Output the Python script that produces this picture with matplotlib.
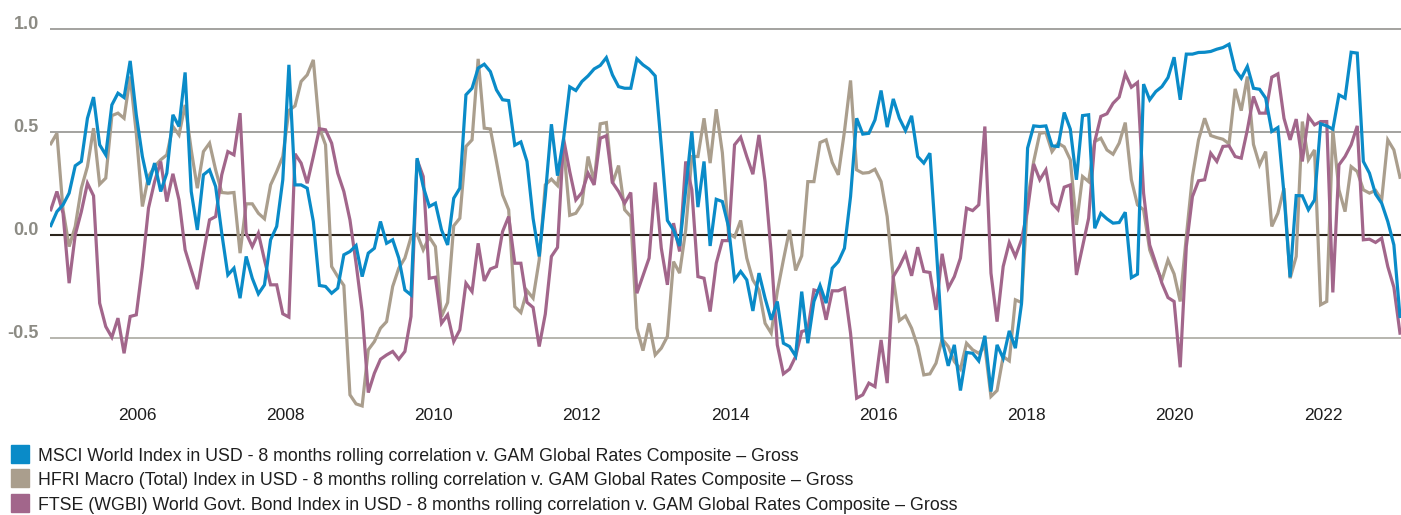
import matplotlib
matplotlib.use("Agg")
import matplotlib.pyplot as plt
import pandas as pd
from matplotlib.lines import Line2D

plt.rcParams['font.family'] = ['Liberation Sans', 'DejaVu Sans']

# ---------------- data (monthly, Nov 2004 - Jan 2023) ----------------
start_date = '2004-11-01'
end_date = '2023-01-15'

msci = [
    0.045, 0.113, 0.146, 0.203, 0.336, 0.357, 0.567, 0.670, 0.438, 0.389,
    0.632, 0.689, 0.668, 0.846, 0.584, 0.381, 0.243, 0.349, 0.211, 0.300,
    0.584, 0.527, 0.790, 0.211, 0.024, 0.292, 0.316, 0.235, 0.008, -0.195,
    -0.162, -0.308, -0.105, -0.211, -0.287, -0.243, -0.024, 0.041, 0.268, 0.827,
    0.243, 0.243, 0.227, 0.065, -0.246, -0.251, -0.284, -0.259, -0.097, -0.081,
    -0.052, -0.203, -0.089, -0.065, 0.065, -0.041, -0.024, -0.113, -0.268, -0.292,
    0.373, 0.235, 0.138, 0.154, 0.024, -0.049, 0.178, 0.227, 0.681, 0.713,
    0.811, 0.830, 0.794, 0.705, 0.657, 0.653, 0.436, 0.452, 0.357, 0.080,
    -0.105, 0.190, 0.538, 0.288, 0.470, 0.720, 0.702, 0.746, 0.773, 0.807,
    0.824, 0.862, 0.778, 0.721, 0.713, 0.713, 0.856, 0.827, 0.806, 0.773,
    0.430, 0.070, 0.024, -0.054, 0.219, 0.503, 0.135, 0.357, -0.054, 0.173,
    0.162, 0.041, -0.219, -0.178, -0.219, -0.370, -0.186, -0.308, -0.413, -0.324,
    -0.527, -0.543, -0.589, -0.276, -0.527, -0.324, -0.246, -0.332, -0.162, -0.130,
    -0.065, 0.186, 0.567, 0.490, 0.494, 0.559, 0.702, 0.524, 0.661, 0.567,
    0.507, 0.579, 0.381, 0.349, 0.397, -0.041, -0.511, -0.637, -0.535, -0.757,
    -0.572, -0.576, -0.613, -0.491, -0.762, -0.535, -0.600, -0.467, -0.551, -0.336,
    0.422, 0.530, 0.527, 0.530, 0.433, 0.430, 0.595, 0.514, 0.268, 0.580,
    0.584, 0.032, 0.105, 0.078, 0.057, 0.060, 0.110, -0.208, -0.191, 0.733,
    0.657, 0.697, 0.721, 0.765, 0.864, 0.657, 0.879, 0.879, 0.887, 0.888,
    0.892, 0.903, 0.911, 0.927, 0.803, 0.762, 0.819, 0.713, 0.708, 0.665,
    0.503, 0.522, 0.200, -0.206, 0.191, 0.190, 0.122, 0.170, 0.540, 0.530,
    0.514, 0.681, 0.665, 0.888, 0.884, 0.357, 0.300, 0.198, 0.154, 0.065,
    -0.049, -0.397,
]

hfri = [
    0.443, 0.494, 0.122, -0.057, 0.041, 0.227, 0.332, 0.519, 0.246, 0.276,
    0.580, 0.592, 0.567, 0.770, 0.494, 0.138, 0.284, 0.332, 0.365, 0.389,
    0.527, 0.486, 0.632, 0.413, 0.227, 0.405, 0.446, 0.316, 0.206, 0.203,
    0.206, -0.089, 0.151, 0.151, 0.105, 0.078, 0.243, 0.308, 0.381, 0.605,
    0.627, 0.746, 0.778, 0.851, 0.519, 0.438, -0.154, -0.203, -0.246, -0.778,
    -0.822, -0.832, -0.559, -0.519, -0.454, -0.422, -0.251, -0.162, -0.113, -0.011,
    0.003, -0.073, -0.011, -0.057, -0.397, -0.329, 0.044, 0.081, 0.430, 0.462,
    0.856, 0.519, 0.515, 0.357, 0.195, 0.122, -0.349, -0.378, -0.271, -0.308,
    -0.122, 0.243, 0.271, 0.240, 0.430, 0.095, 0.105, 0.151, 0.381, 0.259,
    0.540, 0.546, 0.251, 0.337, 0.122, 0.089, -0.454, -0.563, -0.430, -0.584,
    -0.551, -0.494, -0.130, -0.186, 0.024, 0.381, 0.381, 0.567, 0.349, 0.611,
    0.400, 0.008, -0.011, 0.070, -0.113, -0.219, -0.268, -0.430, -0.478, -0.276,
    -0.122, 0.024, -0.173, -0.102, 0.259, 0.259, 0.449, 0.462, 0.352, 0.292,
    0.503, 0.751, 0.316, 0.300, 0.303, 0.319, 0.259, 0.089, -0.210, -0.417,
    -0.394, -0.454, -0.543, -0.681, -0.676, -0.624, -0.507, -0.543, -0.616, -0.653,
    -0.527, -0.559, -0.576, -0.543, -0.786, -0.757, -0.592, -0.613, -0.316, -0.329,
    0.170, 0.357, 0.494, 0.498, 0.405, 0.446, 0.428, 0.365, 0.049, 0.284,
    0.259, 0.454, 0.470, 0.413, 0.392, 0.446, 0.546, 0.268, 0.146, 0.122,
    -0.073, -0.154, -0.219, -0.122, -0.190, -0.324, -0.008, 0.284, 0.462, 0.567,
    0.483, 0.473, 0.465, 0.443, 0.710, 0.604, 0.770, 0.440, 0.340, 0.405,
    0.041, 0.105, 0.227, -0.211, -0.105, 0.551, 0.365, 0.413, -0.340, -0.324,
    0.511, 0.219, 0.113, 0.332, 0.308, 0.219, 0.203, 0.216, 0.170, 0.462,
    0.413, 0.280,
]

ftse = [
    0.122, 0.211, 0.105, -0.235, 0.000, 0.113, 0.251, 0.190, -0.332, -0.446,
    -0.498, -0.405, -0.576, -0.397, -0.389, -0.154, 0.130, 0.259, 0.357, 0.162,
    0.297, 0.170, -0.073, -0.170, -0.264, -0.089, 0.073, 0.089, 0.292, 0.405,
    0.389, 0.592, 0.008, -0.057, 0.008, -0.122, -0.243, -0.243, -0.384, -0.400,
    0.394, 0.349, 0.251, 0.381, 0.516, 0.511, 0.446, 0.300, 0.211, 0.073,
    -0.138, -0.373, -0.767, -0.673, -0.605, -0.584, -0.567, -0.605, -0.567, -0.397,
    0.365, 0.284, -0.211, -0.206, -0.430, -0.389, -0.519, -0.462, -0.235, -0.276,
    -0.041, -0.224, -0.166, -0.154, 0.016, 0.089, -0.138, -0.138, -0.328, -0.353,
    -0.543, -0.385, -0.105, -0.061, 0.466, 0.308, 0.170, 0.206, 0.300, 0.243,
    0.470, 0.482, 0.255, 0.211, 0.154, 0.206, -0.284, -0.199, -0.113, 0.255,
    -0.065, -0.243, 0.057, -0.081, 0.357, 0.219, -0.203, -0.211, -0.373, -0.138,
    -0.028, -0.028, 0.438, 0.475, 0.381, 0.295, 0.486, 0.259, -0.089, -0.535,
    -0.676, -0.653, -0.592, -0.470, -0.462, -0.268, -0.276, -0.413, -0.272, -0.272,
    -0.259, -0.478, -0.794, -0.778, -0.721, -0.738, -0.511, -0.721, -0.203, -0.154,
    -0.092, -0.199, -0.060, -0.178, -0.183, -0.365, -0.092, -0.259, -0.203, -0.113,
    0.130, 0.118, 0.146, 0.527, -0.186, -0.422, -0.154, -0.037, -0.105, -0.024,
    0.122, 0.345, 0.268, 0.316, 0.154, 0.122, 0.232, 0.243, -0.195, -0.057,
    0.081, 0.454, 0.576, 0.589, 0.640, 0.670, 0.783, 0.718, 0.741, 0.203,
    -0.049, -0.138, -0.235, -0.305, -0.324, -0.644, -0.057, 0.186, 0.263, 0.268,
    0.397, 0.357, 0.430, 0.433, 0.381, 0.373, 0.511, 0.673, 0.592, 0.592,
    0.767, 0.783, 0.567, 0.462, 0.563, 0.357, 0.576, 0.535, 0.551, 0.551,
    -0.280, 0.340, 0.381, 0.438, 0.530, -0.024, -0.021, -0.037, -0.016, -0.154,
    -0.255, -0.478,
]

series_labels = [
    "MSCI World Index in USD - 8 months rolling correlation v. GAM Global Rates Composite \u2013 Gross",
    "HFRI Macro (Total) Index in USD - 8 months rolling correlation v. GAM Global Rates Composite \u2013 Gross",
    "FTSE (WGBI) World Govt. Bond Index in USD - 8 months rolling correlation v. GAM Global Rates Composite \u2013 Gross",
]
y_ticks = [1.0, 0.5, 0.0, -0.5]
y_tick_labels = ['1.0', '0.5', '0.0', '-0.5']
x_tick_years = [2006, 2008, 2010, 2012, 2014, 2016, 2018, 2020, 2022]

# ---------------- styling ----------------
c_msci = '#0a8bc8'
c_hfri = '#aa9e8d'
c_ftse = '#a2668b'

dates = pd.date_range(start_date, end_date, periods=len(msci))

W, H = 1401, 515
fig = plt.figure(figsize=(W / 100, H / 100), dpi=100)
ax = fig.add_axes([50 / W, 0.2006, 1351 / W, 0.9472 - 0.2006])
ax.set_ylim(-0.86, 1.01)
ax.set_xlim(dates[0] - pd.Timedelta(days=4), dates[-1] + pd.Timedelta(days=5))

grid_style = {1.0: ('#8a8985', 1.1), 0.5: ('#8a8985', 1.1), 0.0: ('#2b241c', 1.5), -0.5: ('#b7b6ae', 1.4)}
for yv in y_ticks:
    col, lw = grid_style[yv]
    ax.axhline(yv, color=col, lw=lw, zorder=1)

lw = 2.3
ax.plot(dates, hfri, color=c_hfri, lw=lw, zorder=2, solid_joinstyle='miter')
ax.plot(dates, ftse, color=c_ftse, lw=lw, zorder=3, solid_joinstyle='miter')
ax.plot(dates, msci, color=c_msci, lw=lw, zorder=4, solid_joinstyle='miter')

for s in ax.spines.values():
    s.set_visible(False)

ax.set_yticks(y_ticks)
ax.set_yticklabels(y_tick_labels, fontsize=13, fontweight='bold', color='#8c8b84')
for lab in ax.get_yticklabels():
    lab.set_va('baseline')
ax.tick_params(axis='y', length=0, pad=8)

ax.set_xticks([pd.Timestamp(f'{y}-01-01') for y in x_tick_years])
ax.set_xticklabels([str(y) for y in x_tick_years], fontsize=12.5, color='#1e1e1e')
ax.tick_params(axis='x', length=0, pad=-3)

handles = [Line2D([], [], marker='s', ls='none', ms=12.5, color=c) for c in (c_msci, c_hfri, c_ftse)]
fig.legend(handles, series_labels, loc='upper left', bbox_to_anchor=(11 / W, 1 - 447 / H),
           frameon=False, fontsize=12.8, handlelength=0.98, handleheight=1.0,
           handletextpad=0.55, labelspacing=0.36, borderpad=0, borderaxespad=0,
           labelcolor='#1e1e1e')

fig.savefig('out.png', dpi=100)
